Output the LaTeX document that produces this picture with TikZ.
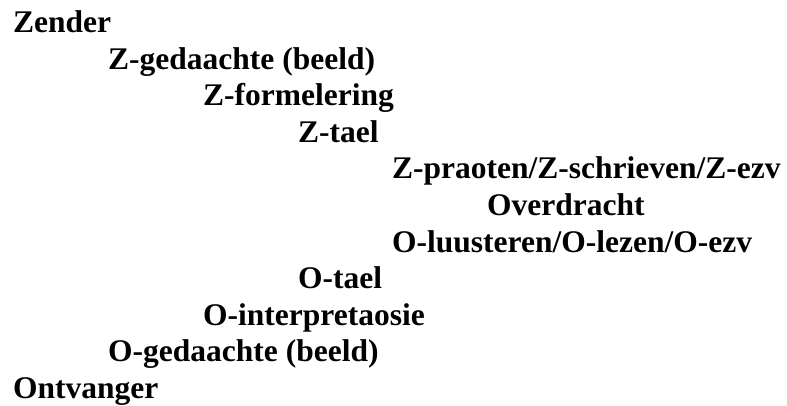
\documentclass[tikz,border=0pt]{standalone}
\usepackage{fontspec}
\newfontfamily\regelfont{LiberationSerif-Bold.ttf}
\usepackage{tikz}
\usetikzlibrary{positioning}

\tikzset{
  regel/.style={anchor=base west, inner sep=0pt, font=\regelfont\fontsize{31.5}{37}\selectfont},
}

\begin{document}
\begin{tikzpicture}[x=1pt, y=1pt]
  \useasboundingbox (0,0) rectangle (787,-406);
  % zender -> overdracht
  \node[regel] (zender)      at (13,-33)    {Zender};
  \node[regel] (zgedaachte)  at (108,-69.5) {Z-gedaachte (beeld)};
  \node[regel] (zformel)     at (203,-106)  {Z-formelering};
  \node[regel] (ztael)       at (298,-142.5){Z-tael};
  \node[regel] (zpraoten)    at (392,-179)  {Z-praoten/Z-schrieven/Z-ezv};
  \node[regel] (overdracht)  at (487,-215.5){Overdracht};
  % overdracht -> ontvanger
  \node[regel] (oluusteren)  at (392,-252)  {O-luusteren/O-lezen/O-ezv};
  \node[regel] (otael)       at (298,-288.5){O-tael};
  \node[regel] (ointerpret)  at (203,-325)  {O-interpretaosie};
  \node[regel] (ogedaachte)  at (108,-361.5){O-gedaachte (beeld)};
  \node[regel] (ontvanger)   at (13,-398)   {Ontvanger};
\end{tikzpicture}
\end{document}
